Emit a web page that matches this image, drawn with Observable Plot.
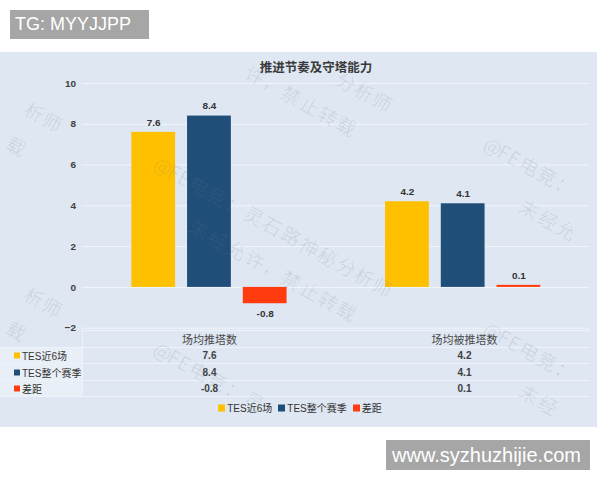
<!DOCTYPE html>
<html><head><meta charset="utf-8">
<script src="https://cdn.jsdelivr.net/npm/d3@7"></script>
<script src="https://cdn.jsdelivr.net/npm/@observablehq/plot@0.6"></script>
<style>
body{margin:0;width:600px;height:480px;background:#fff;position:relative;overflow:hidden;font-family:"Liberation Sans","Noto Sans CJK SC",sans-serif;}
#tg{position:absolute;left:10px;top:10px;width:139px;height:29px;background:#a6a6a6;color:#fff;font:18px "Liberation Sans",sans-serif;line-height:29px;padding-left:5px;box-sizing:border-box;}
#www{position:absolute;left:386px;top:440px;width:204px;height:30px;background:#a6a6a6;color:#fff;font:20px "Liberation Sans",sans-serif;line-height:30px;padding-left:6px;box-sizing:border-box;}
#panel{position:absolute;left:0;top:52px;width:597px;height:375px;background:#dee7f2;overflow:hidden;}
#title{position:absolute;left:216px;width:200px;top:5px;text-align:center;font:bold 12.5px "Noto Sans CJK SC",sans-serif;color:#3a3a3a;}
#chart{position:absolute;left:0;top:18px;}
.abs{position:absolute;white-space:nowrap;}
.cell{font-size:10px;font-weight:bold;color:#404040;transform:translate(-50%,-50%);}
.hdr{font:11px "Noto Sans CJK SC",sans-serif;color:#4a4a4a;transform:translate(-50%,-50%);}
.rowlab{font-size:10px;color:#333;transform:translateY(-50%);font-family:"Liberation Sans","Noto Sans CJK SC",sans-serif;}
.sw{display:inline-block;width:6px;height:6px;margin-right:2px;vertical-align:1px;}
.lsw{display:inline-block;width:7px;height:7px;margin-right:2px;vertical-align:0px;}
.hl{position:absolute;height:1px;background:#eef3f9;}
#legend{position:absolute;left:150px;width:300px;top:355px;text-align:center;font-size:10px;color:#333;transform:translateY(-50%);}
#legend span.item{margin:0 3px;}
#wm{position:absolute;left:0;top:0;width:597px;height:375px;pointer-events:none;}
.wc{position:absolute;width:22px;height:22px;line-height:22px;text-align:center;font:300 19px "Noto Sans CJK SC",sans-serif;color:rgba(115,125,140,0.2);transform:translate(-50%,-50%) rotate(29deg);}
</style></head>
<body>
<div id="tg">TG: MYYJJPP</div>
<div id="panel">
  <div id="title">推进节奏及守塔能力</div>
  <div id="chart"></div>
  <div id="table"></div>
  <div id="legend"></div>
  <div id="wm"></div>
</div>
<div id="www">www.syzhuzhijie.com</div>
<script>
// ---- data ----
const groups = ["场均推塔数", "场均被推塔数"];
const series = ["TES近6场", "TES整个赛季", "差距"];
const seriesLabels = ["TES近6场", "TES整个赛季", "差距"];
const recent6 = [7.6, 4.2];
const fullSeason = [8.4, 4.1];
const gap = [-0.8, 0.1];
const colors = ["#FFC000", "#1F4E79", "#FF3B0F"];
const yTicks = [-2, 0, 2, 4, 6, 8, 10];
const watermark1 = "@FE电竞：灵石路神秘分析师";
const watermark2 = "未经允许，禁止转载";

const seriesValues = [recent6, fullSeason, gap];
const data = [];
groups.forEach((g, gi) => series.forEach((s, si) => data.push({group: g, series: s, value: seriesValues[si][gi]})));

const fmt = v => v.toFixed(1);
const chart = Plot.plot({
  width: 600, height: 265,
  marginTop: 13, marginBottom: 6, marginLeft: 82, marginRight: 8,
  style: {background: "transparent", fontFamily: "'Liberation Sans', sans-serif", overflow: "visible"},
  fx: {domain: groups, padding: 0, axis: null, label: null},
  x: {domain: series, axis: null, paddingInner: 0.22, paddingOuter: 0.87},
  y: {domain: [-2, 10], label: null},
  color: {domain: series, range: colors},
  marks: [
    Plot.gridY(yTicks, {stroke: "#f2f6fb", strokeOpacity: 1, strokeWidth: 1}),
    Plot.axisY(yTicks, {tickSize: 0, tickPadding: 6, fontWeight: "bold", fill: "#404040", fontSize: 10, label: null}),
    Plot.barY(data, {fx: "group", x: "series", y: "value", fill: "series"}),
    Plot.text(data.filter(d => d.value >= 0), {fx: "group", x: "series", y: "value", text: d => fmt(d.value), dy: -10, fontWeight: "bold", fontSize: 10, fill: "#333"}),
    Plot.text(data.filter(d => d.value < 0), {fx: "group", x: "series", y: "value", text: d => fmt(d.value), dy: 10, fontWeight: "bold", fontSize: 10, fill: "#333"})
  ]
});
document.getElementById("chart").appendChild(chart);

// column centers from the facet scale
let centers = [209.5, 464.5];
try {
  const fx = chart.scale("fx");
  if (fx && fx.apply) centers = groups.map(g => fx.apply(g) + fx.bandwidth / 2);
} catch (e) {}

// ---- table ----
const table = document.getElementById("table");
const rowY = [287, 303, 320, 336];   // panel-relative centers
const lineY = [278, 295, 311, 328, 344];
const lab = document.createElement("div");
lab.className = "abs"; lab.style.cssText = "left:0;top:295px;width:82px;height:49px;background:#e9eff7;";
table.appendChild(lab);
lineY.forEach((y, i) => {
  const l = document.createElement("div");
  l.className = "hl"; l.style.left = (i === 0 ? 82 : 0) + "px"; l.style.width = (i === 0 ? 508 : 590) + "px"; l.style.top = y + "px";
  table.appendChild(l);
});
const vl = document.createElement("div");
vl.className = "abs"; vl.style.cssText = "left:82px;top:278px;width:1px;height:66px;background:#eef3f9;";
table.appendChild(vl);
groups.forEach((g, gi) => {
  const h = document.createElement("div");
  h.className = "abs hdr"; h.textContent = g; h.style.left = centers[gi] + "px"; h.style.top = rowY[0] + "px";
  table.appendChild(h);
});
series.forEach((s, si) => {
  const r = document.createElement("div");
  r.className = "abs rowlab"; r.style.left = "14px"; r.style.top = rowY[si + 1] + "px";
  r.innerHTML = `<span class="sw" style="background:${colors[si]}"></span>${seriesLabels[si]}`;
  table.appendChild(r);
  groups.forEach((g, gi) => {
    const c = document.createElement("div");
    c.className = "abs cell"; c.textContent = fmt(seriesValues[si][gi]);
    c.style.left = centers[gi] + "px"; c.style.top = rowY[si + 1] + "px";
    table.appendChild(c);
  });
});

// ---- legend ----
document.getElementById("legend").innerHTML = series.map((s, si) =>
  `<span class="item"><span class="lsw" style="background:${colors[si]}"></span>${seriesLabels[si]}</span>`).join("");

// ---- watermark tiles (per character, only those fully inside the panel) ----
const wm = document.getElementById("wm");
const ang = 29 * Math.PI / 180, ca = Math.cos(ang), sa = Math.sin(ang);
function placeLine(text, x0, y0) {
  let t = 0;
  for (const ch of text) {
    const w = /[\x00-\x7f]/.test(ch) ? 12 : 21;
    const cx = x0 + (t + w / 2) * ca, cy = y0 + (t + w / 2) * sa;
    t += w;
    if (cx < 18 || cx > 576 || cy < 18 || cy > 352) continue;
    const d = document.createElement("div");
    d.className = "wc"; d.textContent = ch; d.style.left = cx + "px"; d.style.top = cy + "px";
    wm.appendChild(d);
  }
}
for (let i = -2; i <= 2; i++) for (let j = -2; j <= 2; j++) {
  const x = 160 + 330 * i, y = 108 - 20 * i + 185 * j;
  placeLine(watermark1, x, y);
  placeLine(watermark2, x + 58 * ca - 38 * sa, y + 58 * sa + 38 * ca);
}
</script>
</body></html>
